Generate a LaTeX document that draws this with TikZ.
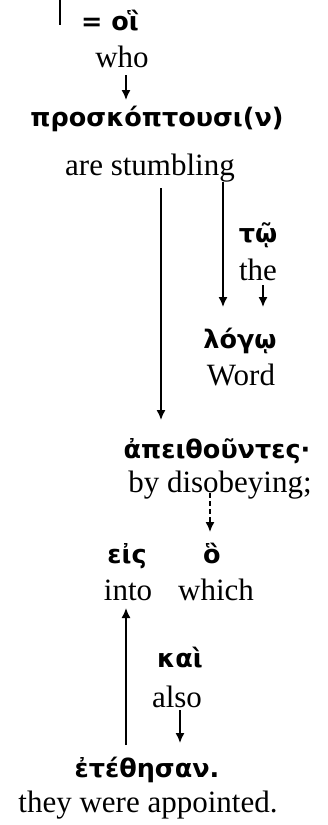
\documentclass[tikz,border=0pt]{standalone}
\usepackage{fontspec}
\setmainfont{Liberation Serif}
\newfontfamily\greekfont{DejaVu Sans}
\usetikzlibrary{arrows.meta}

\begin{document}
\begin{tikzpicture}[x=1pt,y=-1pt]
    \tikzset{
        grk/.style={font=\greekfont\bfseries\fontsize{25.5}{30}\selectfont,
            inner sep=0pt, anchor=base},
        eng/.style={font=\fontsize{31}{36}\selectfont,
            inner sep=0pt, anchor=base},
        link/.style={line width=1.5pt, -{Latex[length=10pt,width=9pt]}},
    }
    \useasboundingbox (0,0) rectangle (328,825);
    % line coming down from above
    \coordinate (top) at (60,0);
    \coordinate (topend) at (60,25);
    \draw[line width=1.5pt] (top) -- (topend);
    % the words
    \node[grk] (hoi) at (110,30) {= οἳ};
    \node[eng] (who) at (122,67) {who};
    \node[grk] (pros) at (157,126) {προσκόπτουσι(ν)};
    \node[eng] (stumb) at (150,175) {are stumbling};
    \node[grk] (to) at (258,242) {τῷ};
    \node[eng] (the) at (258,280) {the};
    \node[grk] (logo) at (240,348) {λόγῳ};
    \node[eng] (word) at (241,385) {Word};
    \node[grk] (apei) at (217,458) {ἀπειθοῦντες·};
    \node[eng] (disob) at (220,492) {by disobeying;};
    \node[grk] (eis) at (127,563) {εἰς};
    \node[grk] (ho) at (212,563) {ὃ};
    \node[eng] (into) at (128,600) {into};
    \node[eng] (which) at (216,600) {which};
    \node[grk] (kai) at (180,667) {καὶ};
    \node[eng] (also) at (177,707) {also};
    \node[grk] (eteth) at (147,777) {ἐτέθησαν.};
    \node[eng] (appt) at (148,812) {they were appointed.};
    % connectors
    \draw[link] ([shift={(4,8)}]who.base) -- ([shift={(-31,-26)}]pros.base);
    \draw[link] ([shift={(11,13)}]stumb.base) -- ([shift={(-56,-38)}]apei.base);
    \draw[link] ([shift={(73,7)}]stumb.base) -- ([shift={(-17,-41)}]logo.base);
    \draw[link] ([shift={(5,5)}]the.base) -- ([shift={(23,-41)}]logo.base);
    \draw[link, dash pattern=on 5pt off 3pt] ([shift={(-10,1)}]disob.base)
        -- ([shift={(-2,-31)}]ho.base);
    \draw[link] ([shift={(3,3)}]also.base) -- ([shift={(33,-34)}]eteth.base);
    \draw[link] ([shift={(-21,-32)}]eteth.base) -- ([shift={(-2,8)}]into.base);
\end{tikzpicture}
\end{document}
